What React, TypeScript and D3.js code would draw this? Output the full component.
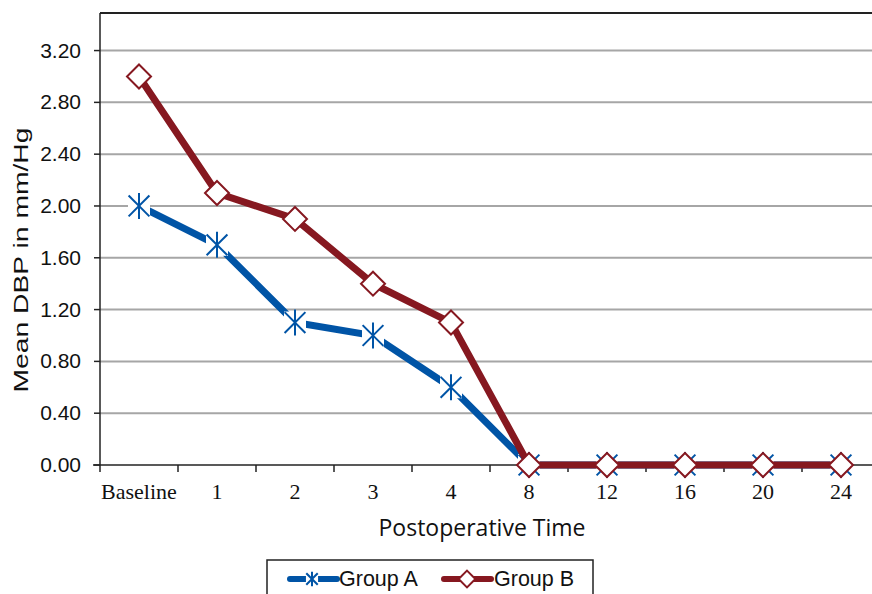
import * as d3 from "d3"

const categories = ["Baseline", "1", "2", "3", "4", "8", "12", "16", "20", "24"]
const groupA = [2.0, 1.7, 1.1, 1.0, 0.6, 0, 0, 0, 0, 0]
const groupB = [3.0, 2.1, 1.9, 1.4, 1.1, 0, 0, 0, 0, 0]
const yTicks = [0, 0.4, 0.8, 1.2, 1.6, 2.0, 2.4, 2.8, 3.2]

const W = 872
const H = 594
const left = 100
const right = 880
const top = 13
const bottom = 465

const BLUE = "#0054a6"
const RED = "#861820"
const SANS = "Liberation Sans, Arial, sans-serif"

function Star({ x, y, s = 1, bg = true }: { x: number; y: number; s?: number; bg?: boolean }) {
  const r = 13 * s
  const d = r * 0.8
  return (
    <g>
      {bg && <rect x={x - 11 * s} y={y - 11 * s} width={22 * s} height={22 * s} fill="#fff" />}
      <g stroke={BLUE} strokeWidth={2}>
        <line x1={x} y1={y - r} x2={x} y2={y + r} />
        <line x1={x - d} y1={y - d} x2={x + d} y2={y + d} />
        <line x1={x - d} y1={y + d} x2={x + d} y2={y - d} />
      </g>
    </g>
  )
}

function Diamond({ x, y, s = 1 }: { x: number; y: number; s?: number }) {
  const r = 12 * s
  return (
    <path
      d={`M${x},${y - r}L${x + r},${y}L${x},${y + r}L${x - r},${y}Z`}
      fill="#fff"
      stroke={RED}
      strokeWidth={2}
    />
  )
}

export default function App() {
  const x = d3.scaleBand().domain(categories).range([left, right])
  const y = d3.scaleLinear().domain([0, 3.49]).range([bottom, top])
  const cx = (c: string) => (x(c) ?? 0) + x.bandwidth() / 2
  const line = d3
    .line<number>()
    .x((_, i) => cx(categories[i]))
    .y((d) => y(d))

  const xTickPos = categories.map((c) => x(c) ?? 0)

  return (
    <svg width={W} height={H} style={{ position: "absolute", left: 0, top: 0, background: "#fff" }}>
      {/* gridlines */}
      {yTicks.slice(1).map((t) => (
        <line key={t} x1={left} x2={W} y1={y(t)} y2={y(t)} stroke="#a6a6a6" strokeWidth={2} />
      ))}
      <line x1={left} x2={W} y1={top} y2={top} stroke="#222" strokeWidth={2} />
      {/* y axis */}
      <line x1={left} x2={left} y1={top} y2={bottom} stroke="#222" strokeWidth={1.5} />
      {yTicks.map((t) => (
        <g key={t}>
          <line x1={left - 6} x2={left} y1={y(t)} y2={y(t)} stroke="#222" strokeWidth={1.5} />
          <text x={81} y={y(t) + 7} textAnchor="end" fontFamily={SANS} fontSize={21} fill="#111">
            {t.toFixed(2)}
          </text>
        </g>
      ))}
      {/* x axis */}
      <line x1={left - 7} x2={W} y1={bottom} y2={bottom} stroke="#222" strokeWidth={1.5} />
      {xTickPos.map((p, i) => (
        <line key={i} x1={p} x2={p} y1={bottom} y2={bottom + 7} stroke="#222" strokeWidth={1.5} />
      ))}
      {categories.map((c) => (
        <text
          key={c}
          x={cx(c)}
          y={499}
          textAnchor="middle"
          fontFamily="Liberation Serif, Times New Roman, serif"
          fontSize={22}
          fill="#111"
        >
          {c}
        </text>
      ))}
      <text
        x={482}
        y={536}
        textAnchor="middle"
        fontFamily="Open Sans, sans-serif"
        fontSize={23}
        textLength={207}
        lengthAdjust="spacingAndGlyphs"
        fill="#111"
      >
        Postoperative Time
      </text>
      <text
        transform="translate(28,260) rotate(-90)"
        textAnchor="middle"
        fontFamily={SANS}
        fontSize={21}
        textLength={265}
        lengthAdjust="spacingAndGlyphs"
        fill="#111"
      >
        Mean DBP in mm/Hg
      </text>

      {/* series */}
      <path d={line(groupA) ?? ""} fill="none" stroke={BLUE} strokeWidth={7} />
      {groupA.map((v, i) => (
        <Star key={i} x={cx(categories[i])} y={y(v)} />
      ))}
      <path d={line(groupB) ?? ""} fill="none" stroke={RED} strokeWidth={7} />
      {groupB.map((v, i) => (
        <Diamond key={i} x={cx(categories[i])} y={y(v)} />
      ))}

      {/* legend */}
      <rect x={267} y={560} width={326} height={40} fill="#fff" stroke="#222" strokeWidth={1.5} />
      <line x1={290} x2={337} y1={579} y2={579} stroke={BLUE} strokeWidth={6} strokeLinecap="round" />
      <Star x={312} y={579} s={0.55} />
      <text x={339} y={586} fontFamily={SANS} fontSize={21.5} fill="#111">
        Group A
      </text>
      <line x1={444} x2={491} y1={579} y2={579} stroke={RED} strokeWidth={6} strokeLinecap="round" />
      <Diamond x={467} y={579} s={0.7} />
      <text x={494} y={586} fontFamily={SANS} fontSize={21.5} fill="#111">
        Group B
      </text>
    </svg>
  )
}
